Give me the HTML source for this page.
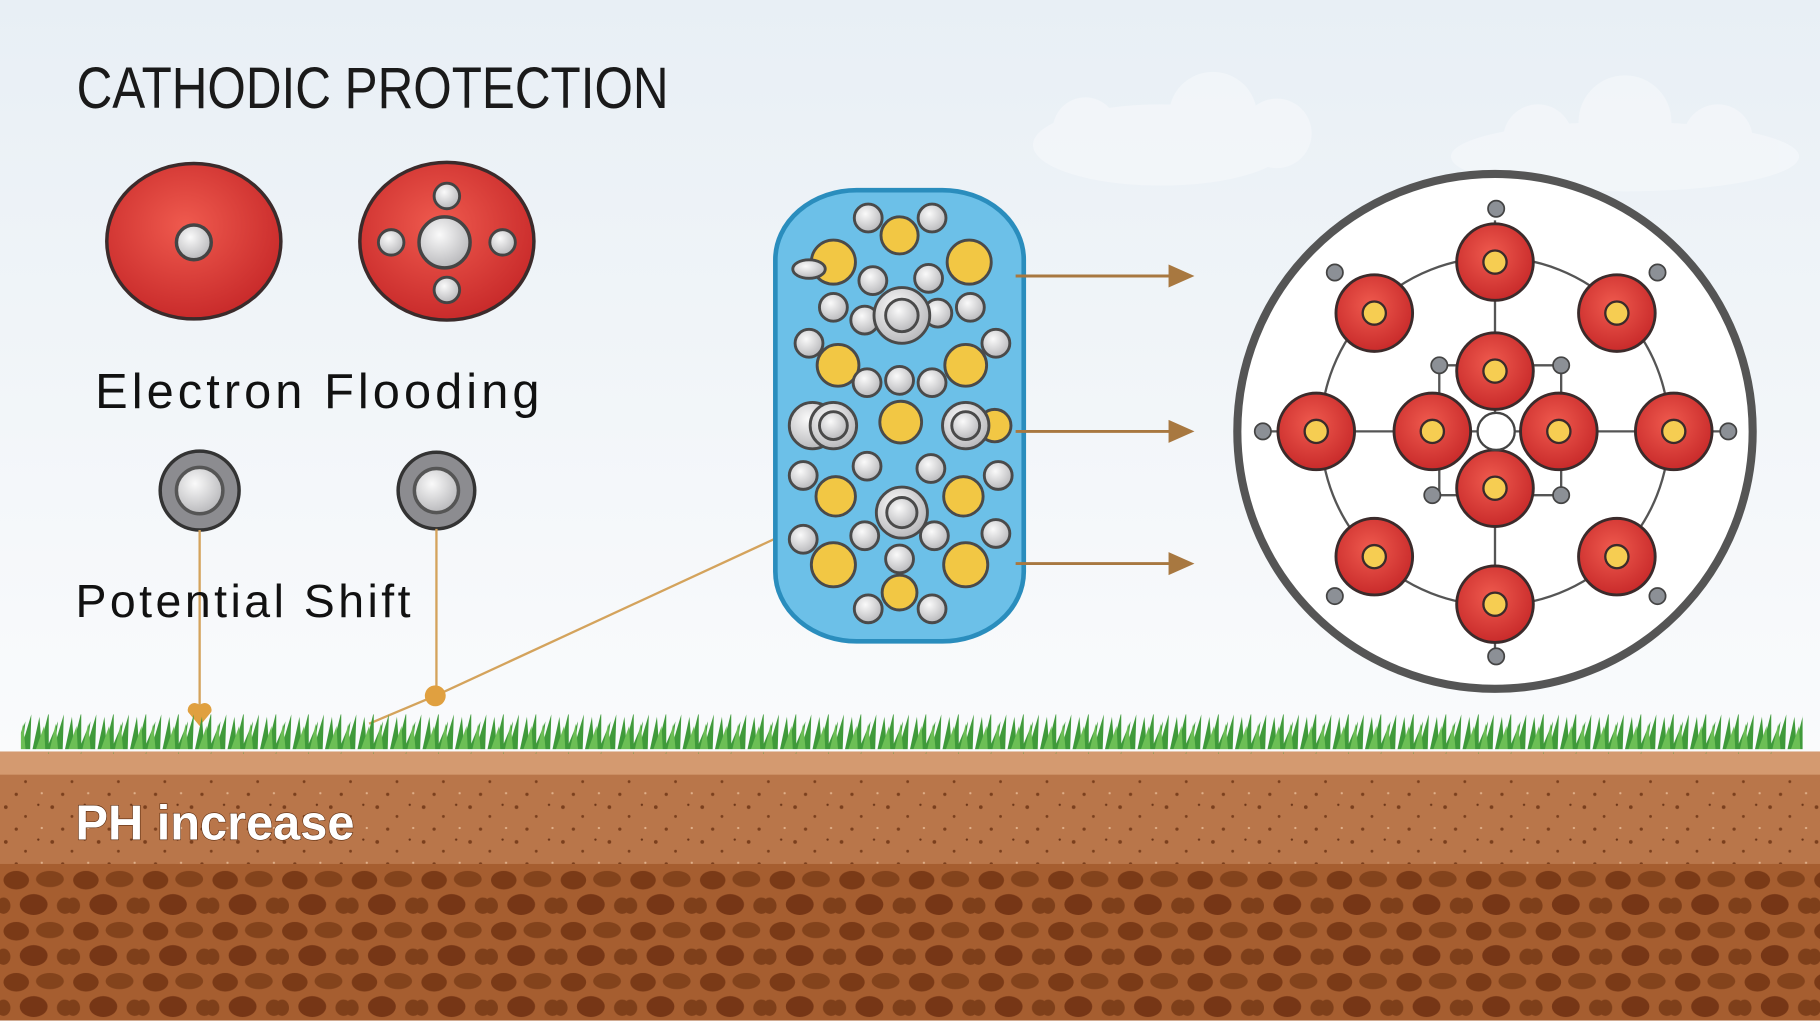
<!DOCTYPE html>
<html><head><meta charset="utf-8"><style>
html,body{margin:0;padding:0;width:1820px;height:1024px;overflow:hidden;background:#fff}
svg{display:block}
text{font-family:"Liberation Sans","DejaVu Sans",sans-serif}
</style></head><body>
<svg width="1820" height="1024" viewBox="0 0 1568 883" preserveAspectRatio="none" xmlns="http://www.w3.org/2000/svg">
<defs>
<linearGradient id="sky" x1="0" y1="0" x2="0" y2="1">
<stop offset="0" stop-color="#e8eff5"/><stop offset="0.6" stop-color="#f7f9fb"/><stop offset="1" stop-color="#ffffff"/>
</linearGradient>
<radialGradient id="red" cx="0.45" cy="0.4" r="0.6">
<stop offset="0" stop-color="#ef5a4e"/><stop offset="1" stop-color="#c92b2b"/>
</radialGradient>
<radialGradient id="gry" cx="0.4" cy="0.35" r="0.7">
<stop offset="0" stop-color="#fafafa"/><stop offset="1" stop-color="#b5b5b8"/>
</radialGradient>
<pattern id="grass" width="28" height="34" patternUnits="userSpaceOnUse">
<path d="M0 34 L6 6 L8 34 Z M6 34 L14 2 L14 34 Z M12 34 L22 10 L19 34 Z M18 34 L27 4 L26 34 Z" fill="#3f9a3a"/>
<path d="M3 34 L10 14 L11 34 Z M15 34 L20 12 L22 34 Z" fill="#6cbf55"/>
</pattern>
<pattern id="speck" width="40" height="30" patternUnits="userSpaceOnUse">
<circle cx="5" cy="6" r="1.6" fill="#7a3f1d"/><circle cx="22" cy="14" r="1.2" fill="#7a3f1d"/><circle cx="33" cy="4" r="1" fill="#6b3518"/><circle cx="14" cy="25" r="1.4" fill="#7a3f1d"/><circle cx="36" cy="24" r="1" fill="#e0b08a"/>
</pattern>
<pattern id="cells" width="60" height="44" patternUnits="userSpaceOnUse">
<rect width="60" height="44" fill="#a65e30"/>
<ellipse cx="14" cy="11" rx="11" ry="8" fill="#7a3a17"/><ellipse cx="43" cy="10" rx="12" ry="7" fill="#83431c"/>
<ellipse cx="29" cy="32" rx="12" ry="9" fill="#763616"/><ellipse cx="56" cy="33" rx="7" ry="7" fill="#7e3f1a"/><ellipse cx="3" cy="33" rx="6" ry="7" fill="#7e3f1a"/>
</pattern>
</defs>
<rect width="1568" height="883" fill="url(#sky)"/>
<g fill="#f5f8fb" opacity="0.7">
<ellipse cx="1000" cy="125" rx="110" ry="35"/><circle cx="935" cy="112" r="28"/><circle cx="1045" cy="100" r="38"/><circle cx="1100" cy="115" r="30"/>
<ellipse cx="1400" cy="135" rx="150" ry="30"/><circle cx="1325" cy="120" r="30"/><circle cx="1400" cy="105" r="40"/><circle cx="1480" cy="120" r="30"/>
</g>
<text x="66" y="93" font-size="50" fill="#1a1a1a" font-family="DejaVu Sans" textLength="510" lengthAdjust="spacingAndGlyphs">CATHODIC PROTECTION</text>
<ellipse cx="167" cy="208" rx="75" ry="67" fill="url(#red)" stroke="#3b2b2b" stroke-width="3"/>
<circle cx="167" cy="209" r="15" fill="url(#gry)" stroke="#444" stroke-width="3"/>
<ellipse cx="385" cy="208" rx="75" ry="68" fill="url(#red)" stroke="#3b2b2b" stroke-width="3"/>
<circle cx="383" cy="209" r="22" fill="url(#gry)" stroke="#444" stroke-width="3"/>
<g fill="url(#gry)" stroke="#444" stroke-width="2.5">
<circle cx="385" cy="169" r="11"/><circle cx="337" cy="209" r="11"/><circle cx="433" cy="209" r="11"/><circle cx="385" cy="250" r="11"/></g>
<text x="82" y="352" font-size="42" fill="#111" letter-spacing="3.5">Electron Flooding</text>
<circle cx="172" cy="423" r="34" fill="#8c8c90" stroke="#333" stroke-width="3"/><circle cx="172" cy="423" r="20" fill="url(#gry)" stroke="#555" stroke-width="3"/>
<circle cx="376" cy="423" r="33" fill="#8c8c90" stroke="#333" stroke-width="3"/><circle cx="376" cy="423" r="19" fill="url(#gry)" stroke="#555" stroke-width="3"/>
<g stroke="#d4a35c" stroke-width="2" fill="none">
<line x1="172" y1="457" x2="172" y2="610"/><line x1="376" y1="456" x2="376" y2="598"/>
<line x1="375" y1="600" x2="710" y2="445"/><line x1="375" y1="600" x2="318" y2="624"/>
</g>
<path d="M172 626 L162 614 A6 6 0 0 1 172 608 A6 6 0 0 1 182 614 Z" fill="#e0a040"/>
<circle cx="375" cy="600" r="9" fill="#e0a040"/>
<text x="65" y="532" font-size="40" fill="#111" letter-spacing="3">Potential Shift</text>
<rect x="668" y="164" width="214" height="389" rx="70" ry="60" fill="#6cc0e8" stroke="#2a8dbd" stroke-width="4"/>
<g stroke="#4a4a4a" stroke-width="2.5">
<g fill="#f2c744">
<circle cx="775" cy="203" r="16"/><circle cx="718" cy="226" r="19"/><circle cx="835" cy="226" r="19"/>
<circle cx="722" cy="315" r="18"/><circle cx="832" cy="315" r="18"/><circle cx="776" cy="364" r="18"/><circle cx="857" cy="367" r="14"/>
<circle cx="720" cy="428" r="17"/><circle cx="830" cy="428" r="17"/><circle cx="718" cy="487" r="19"/><circle cx="832" cy="487" r="19"/><circle cx="775" cy="511" r="15"/>
</g>
<g fill="url(#gry)">
<circle cx="748" cy="188" r="12"/><circle cx="803" cy="188" r="12"/><circle cx="752" cy="242" r="12"/><circle cx="800" cy="240" r="12"/><ellipse cx="697" cy="232" rx="14" ry="8"/>
<circle cx="718" cy="265" r="12"/><circle cx="745" cy="276" r="12"/><circle cx="808" cy="270" r="12"/><circle cx="836" cy="265" r="12"/>
<circle cx="777" cy="272" r="24"/><circle cx="777" cy="272" r="14"/>
<circle cx="697" cy="296" r="12"/><circle cx="858" cy="296" r="12"/><circle cx="747" cy="330" r="12"/><circle cx="775" cy="328" r="12"/><circle cx="803" cy="330" r="12"/>
<circle cx="700" cy="367" r="20"/><circle cx="718" cy="367" r="20"/><circle cx="718" cy="367" r="12"/><circle cx="832" cy="367" r="20"/><circle cx="832" cy="367" r="12"/>
<circle cx="692" cy="410" r="12"/><circle cx="747" cy="402" r="12"/><circle cx="802" cy="404" r="12"/><circle cx="860" cy="410" r="12"/>
<circle cx="777" cy="442" r="22"/><circle cx="777" cy="442" r="13"/>
<circle cx="692" cy="465" r="12"/><circle cx="745" cy="462" r="12"/><circle cx="805" cy="462" r="12"/><circle cx="858" cy="460" r="12"/><circle cx="775" cy="482" r="12"/>
<circle cx="748" cy="525" r="12"/><circle cx="803" cy="525" r="12"/>
</g></g>
<g stroke="#a87840" stroke-width="2.5" fill="#a87840">
<line x1="875" y1="238" x2="1010" y2="238"/><path d="M1008 230 L1026 238 L1008 246 Z"/>
<line x1="875" y1="372" x2="1010" y2="372"/><path d="M1008 364 L1026 372 L1008 380 Z"/>
<line x1="875" y1="486" x2="1010" y2="486"/><path d="M1008 478 L1026 486 L1008 494 Z"/>
</g>
<circle cx="1288" cy="372" r="222" fill="#fff" stroke="#555" stroke-width="7"/>
<circle cx="1288" cy="372" r="150" fill="none" stroke="#555" stroke-width="2"/>
<g stroke="#555" stroke-width="2">
<line x1="1288" y1="190" x2="1288" y2="560"/><line x1="1095" y1="372" x2="1482" y2="372"/>
<line x1="1240" y1="320" x2="1240" y2="427"/><line x1="1345" y1="320" x2="1345" y2="427"/>
<line x1="1240" y1="315" x2="1345" y2="315"/><line x1="1234" y1="427" x2="1345" y2="427"/>
</g>
<g fill="#8c9096" stroke="#444" stroke-width="1.5">
<circle cx="1289" cy="180" r="7"/><circle cx="1150" cy="235" r="7"/><circle cx="1428" cy="235" r="7"/><circle cx="1240" cy="315" r="7"/><circle cx="1345" cy="315" r="7"/>
<circle cx="1088" cy="372" r="7"/><circle cx="1489" cy="372" r="7"/><circle cx="1234" cy="427" r="7"/><circle cx="1345" cy="427" r="7"/>
<circle cx="1150" cy="514" r="7"/><circle cx="1428" cy="514" r="7"/><circle cx="1289" cy="566" r="7"/>
</g>
<g stroke="#3b2b2b" stroke-width="2.5">
<g fill="url(#red)">
<circle cx="1288" cy="226" r="33"/><circle cx="1184" cy="270" r="33"/><circle cx="1393" cy="270" r="33"/><circle cx="1288" cy="320" r="33"/>
<circle cx="1134" cy="372" r="33"/><circle cx="1234" cy="372" r="33"/><circle cx="1343" cy="372" r="33"/><circle cx="1442" cy="372" r="33"/>
<circle cx="1288" cy="421" r="33"/><circle cx="1184" cy="480" r="33"/><circle cx="1393" cy="480" r="33"/><circle cx="1288" cy="521" r="33"/>
</g>
<g fill="#f6cd52" stroke-width="2">
<circle cx="1288" cy="226" r="10"/><circle cx="1184" cy="270" r="10"/><circle cx="1393" cy="270" r="10"/><circle cx="1288" cy="320" r="10"/>
<circle cx="1134" cy="372" r="10"/><circle cx="1234" cy="372" r="10"/><circle cx="1343" cy="372" r="10"/><circle cx="1442" cy="372" r="10"/>
<circle cx="1288" cy="421" r="10"/><circle cx="1184" cy="480" r="10"/><circle cx="1393" cy="480" r="10"/><circle cx="1288" cy="521" r="10"/>
</g></g>
<circle cx="1289" cy="372" r="16" fill="#fff" stroke="#444" stroke-width="2"/>
<rect x="0" y="648" width="1568" height="24" fill="#d49a70"/>
<rect x="0" y="668" width="1568" height="80" fill="#b9764a"/>
<rect x="0" y="668" width="1568" height="80" fill="url(#speck)"/>
<rect x="0" y="745" width="1568" height="136" fill="url(#cells)"/>
<rect x="0" y="880" width="1568" height="3" fill="#fff"/>
<rect x="18" y="616" width="1535" height="34" fill="url(#grass)"/>
<text x="65" y="724" font-size="42" fill="#fff" font-weight="bold" stroke="#5a2c10" stroke-width="1" style="paint-order:stroke">PH increase</text>
</svg>
</body></html>
